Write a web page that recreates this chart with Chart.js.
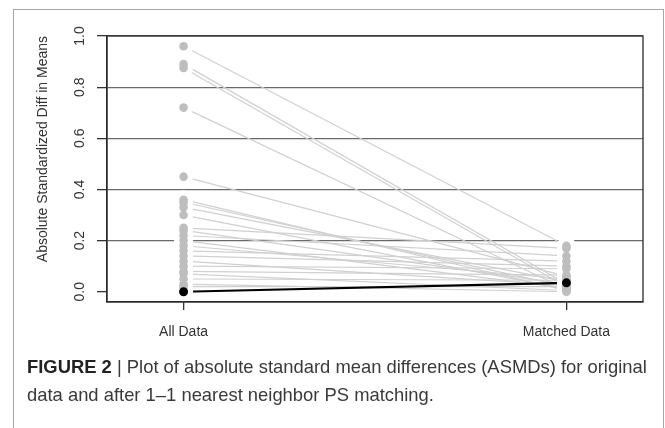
<!DOCTYPE html>
<html><head><meta charset="utf-8">
<script src="https://cdn.jsdelivr.net/npm/chart.js@4/dist/chart.umd.min.js"></script>
<style>
html,body{margin:0;padding:0;background:#fff;width:665px;height:428px;overflow:hidden;}
#frame{position:absolute;left:13px;top:9px;width:649px;height:440px;border:1px solid #a8a8a8;border-bottom:none;}
#wrap{position:absolute;left:0;top:0;width:665px;height:428px;}
#cap{position:absolute;left:27px;top:353px;width:635px;font-family:"Liberation Sans",Arial,sans-serif;font-size:18.4px;line-height:28px;color:#3a3a3a;white-space:nowrap;}
#cap b{color:#222;}
</style></head><body>
<div id="frame"></div>
<div id="wrap"><canvas id="c" width="665" height="428"></canvas></div>
<div id="cap"><b>FIGURE 2</b> | Plot of absolute standard mean differences (ASMDs) for original<br>data and after 1–1 nearest neighbor PS matching.</div>
<script>
const categories = ['All Data', 'Matched Data'];
const allData =     [0.96, 0.89, 0.875, 0.72, 0.45, 0.36, 0.35, 0.33, 0.30, 0.25, 0.24, 0.22, 0.20, 0.18, 0.16, 0.14, 0.12, 0.10, 0.08, 0.07, 0.05, 0.03, 0.02, 0.00];
const matchedData = [0.18, 0.03, 0.02, 0.01, 0.06, 0.005, 0.02, 0.04, 0.01, 0.17, 0.03, 0.14, 0.015, 0.05, 0.12, 0.10, 0.025, 0.09, 0.065, 0.005, 0.045, 0.0, 0.02, 0.035];
const yTickValues = [0, 0.2, 0.4, 0.6, 0.8, 1.0];
const highlightIndex = 23;

const datasets = [];
allData.forEach((v, i) => {
  const hl = i === highlightIndex;
  datasets.push({
    type: 'line',
    data: [{x: 1, y: v}, {x: 2, y: matchedData[i]}],
    borderColor: hl ? '#000000' : '#d0d0d0',
    borderWidth: hl ? 2.2 : 1.2,
    pointRadius: 0,
    fill: false,
    order: hl ? 2 : 3
  });
});
const halo = [], gray = [], black = [];
allData.forEach((v, i) => {
  const a = {x: 1, y: v}, b = {x: 2, y: matchedData[i]};
  halo.push(a, b);
  (i === highlightIndex ? black : gray).push(a, b);
});
datasets.push({type: 'scatter', data: halo, pointRadius: 9.5, pointBackgroundColor: '#ffffff', pointBorderWidth: 0, pointBorderColor: 'rgba(0,0,0,0)', order: 1});
datasets.push({type: 'scatter', data: gray, pointRadius: 4.3, pointBackgroundColor: '#bebebe', pointBorderWidth: 0, pointBorderColor: 'rgba(0,0,0,0)', order: 0});
datasets.push({type: 'scatter', data: black, pointRadius: 4.5, pointBackgroundColor: '#000000', pointBorderWidth: 0, pointBorderColor: 'rgba(0,0,0,0)', order: -1});

const FONT = '"Liberation Sans", Arial, sans-serif';
const framePlugin = {
  id: 'frame',
  afterDraw(chart) {
    const {ctx, chartArea: a} = chart;
    ctx.save();
    ctx.strokeStyle = '#2a2a2a';
    ctx.lineWidth = 1.3;
    ctx.strokeRect(a.left, a.top, a.right - a.left, a.bottom - a.top);
    ctx.restore();
  }
};

new Chart(document.getElementById('c'), {
  data: {datasets},
  options: {
    responsive: false,
    animation: false,
    events: [],
    layout: {padding: {left: 0, top: 36, right: 22, bottom: 0}},
    plugins: {legend: {display: false}, tooltip: {enabled: false}},
    scales: {
      x: {
        type: 'linear', min: 0.8, max: 2.2,
        afterBuildTicks: s => { s.ticks = categories.map((c, i) => ({value: i + 1})); },
        afterFit: s => { s.height = 428 - 302; },
        grid: {drawOnChartArea: false, tickLength: 8, tickColor: '#333', lineWidth: 1.3},
        border: {display: true, color: '#2a2a2a', width: 1.3},
        ticks: {padding: 14, color: '#333', font: {family: FONT, size: 14}, maxRotation: 0, minRotation: 0, autoSkip: false,
          callback: v => categories[Math.round(v) - 1]}
      },
      y: {
        type: 'linear', min: -0.04, max: 1.0, z: 1,
        afterBuildTicks: s => { s.ticks = yTickValues.map(v => ({value: v})); },
        afterFit: s => { s.width = 107; },
        grid: {color: c => (c.tick && c.tick.value === 0) ? 'rgba(0,0,0,0)' : '#6a6a6a', tickColor: '#333', tickLength: 10, lineWidth: 1.3},
        border: {display: true, color: '#2a2a2a', width: 1.3},
        ticks: {minRotation: 90, maxRotation: 90, crossAlign: 'center', padding: 7, color: '#333', font: {family: FONT, size: 14},
          callback: v => Number(v).toFixed(1)},
        title: {display: true, align: 'end', text: 'Absolute Standardized Diff in Means', color: '#333', font: {family: FONT, size: 14}, padding: {top: 35, bottom: 0}}
      }
    }
  },
  plugins: [framePlugin]
});
</script>
</body></html>
